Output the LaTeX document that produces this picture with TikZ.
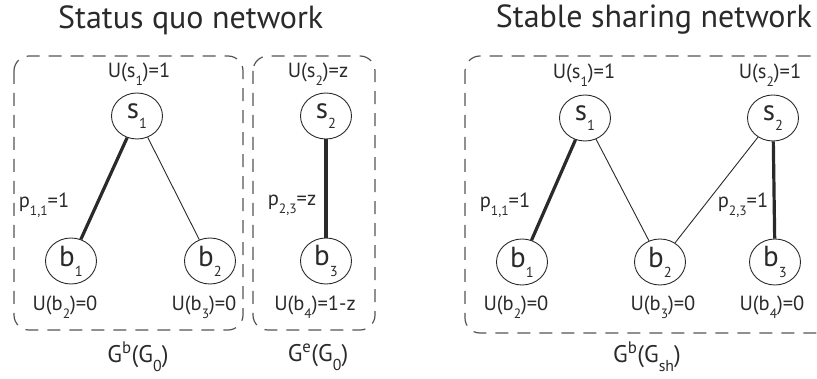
\documentclass[tikz,border=0pt]{standalone}
\usepackage{fontspec}
\setmainfont{PT Sans}
\usetikzlibrary{shapes.geometric}
\newcommand\lsub[1]{\raisebox{-0.75ex}{\scalebox{0.66}{#1}}}
\newcommand\nsub[1]{\raisebox{-0.7ex}{\scalebox{0.5}{#1}}}
\definecolor{ink}{HTML}{2A2A2A}
\definecolor{dashc}{HTML}{555555}
\tikzset{
  agent/.style={ellipse, draw=ink, line width=0.9pt, minimum width=51pt, minimum height=46pt, inner sep=0pt, font=\fontsize{29}{29}\selectfont, text=ink},
  lbl/.style={font=\fontsize{20.5}{21}\selectfont, text=ink, inner sep=0pt},
  ttl/.style={font=\fontsize{32}{32}\selectfont, text=ink, inner sep=0pt},
  glbl/.style={font=\fontsize{24}{24}\selectfont, text=ink, inner sep=0pt},
  boxd/.style={draw=dashc, line width=1.2pt, dash pattern=on 13pt off 9pt, rounded corners=15pt},
  strong/.style={draw=ink, line width=3.2pt},
  weak/.style={draw=ink, line width=0.9pt}
}
\begin{document}
\begin{tikzpicture}[x=1pt,y=-1pt]
\path[use as bounding box] (0,0) rectangle (817,379);
\clip (0,0) rectangle (817,379);
% titles
\node[ttl,anchor=west] (t1) at (58,20) {Status quo network};
\node[ttl,anchor=east] (t2) at (812,20) {Stable sharing network};
% boxes
\draw[boxd] (14,56) rectangle (243,330);
\draw[boxd] (253,56) rectangle (375,330);
\draw[boxd] (465,56) rectangle (840,333);
% status quo
\node[agent] (a1) at (137,116) {s\nsub{1}};
\node[agent] (ab1) at (71,261) {b\nsub{1}};
\node[agent] (ab2) at (210,261) {b\nsub{2}};
\draw[strong] (a1) -- (ab1);
\draw[weak] (a1) -- (ab2);
\node[lbl] (la1) at (139,74) {U(s\lsub{1})=1};
\node[lbl] (lp1) at (44,205) {p\lsub{1,1}=1};
\node[lbl] (lb1) at (65,307) {U(b\lsub{2})=0};
\node[lbl] (lb2) at (204,307) {U(b\lsub{3})=0};
% second box
\node[agent] (c2) at (326,116) {s\nsub{2}};
\node[agent] (cb3) at (326,261) {b\nsub{3}};
\draw[strong] (c2) -- (cb3);
\node[lbl] (lc2) at (318,74) {U(s\lsub{2})=z};
\node[lbl] (lp2) at (292,205) {p\lsub{2,3}=z};
\node[lbl] (lcb) at (315,307) {U(b\lsub{4})=1-z};
% sharing
\node[agent] (d1) at (585,118) {s\nsub{1}};
\node[agent] (d2) at (773,118) {s\nsub{2}};
\node[agent] (db1) at (522,262) {b\nsub{1}};
\node[agent] (db2) at (660,262) {b\nsub{2}};
\node[agent] (db3) at (775,262) {b\nsub{3}};
\draw[strong] (d1) -- (db1);
\draw[weak] (d1) -- (db2);
\draw[weak] (d2) -- (db2);
\draw[strong] (d2) -- (db3);
\node[lbl] (ld1) at (584,75) {U(s\lsub{1})=1};
\node[lbl] (ld2) at (770,75) {U(s\lsub{2})=1};
\node[lbl] (lq1) at (505,205) {p\lsub{1,1}=1};
\node[lbl] (lq2) at (743,205) {p\lsub{2,3}=1};
\node[lbl] (ldb1) at (516,307) {U(b\lsub{2})=0};
\node[lbl] (ldb2) at (663,307) {U(b\lsub{3})=0};
\node[lbl] (ldb3) at (772,307) {U(b\lsub{4})=0};
% bottom labels
\node[glbl] (g1) at (138,357) {G\textsuperscript{b}(G\lsub{0})};
\node[glbl] (g2) at (318,357) {G\textsuperscript{e}(G\lsub{0})};
\node[glbl] (g3) at (647,357) {G\textsuperscript{b}(G\lsub{sh})};
\end{tikzpicture}
\end{document}
